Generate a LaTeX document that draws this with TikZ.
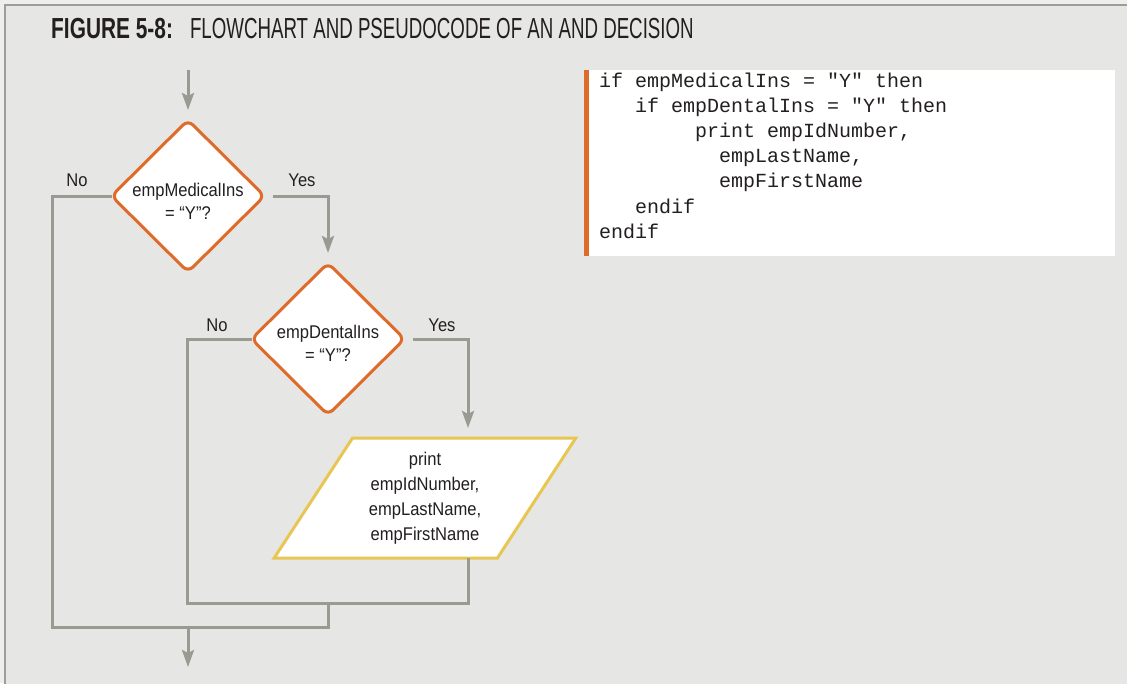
\documentclass[tikz,border=0pt]{standalone}
\usepackage{fontspec}
\setmainfont[FakeStretch=0.9]{Liberation Sans}
\newfontfamily\figlabelfont[FakeStretch=0.72]{Liberation Sans}
\newfontfamily\figtitlefont[FakeStretch=0.645]{Liberation Sans}
\newfontfamily\codefont{Liberation Mono}
\usetikzlibrary{shapes.geometric,arrows.meta}
\definecolor{pagegray}{HTML}{EEEEEC}
\definecolor{panelgray}{HTML}{E6E6E4}
\definecolor{framegray}{HTML}{9E9E98}
\definecolor{flowgray}{HTML}{9B9A92}
\definecolor{deciorange}{HTML}{DF6B2A}
\definecolor{ioyellow}{HTML}{E8C654}
\definecolor{ink}{HTML}{231F20}
% monospaced blanks for the pseudocode
\newcommand{\codesetup}{\codefont\fontsize{20}{25.2}\selectfont}
\newcommand{\codeblanks}{\spaceskip=12pt\xspaceskip=12pt\relax}

\begin{document}
\begin{tikzpicture}[x=1pt,y=-1pt,
    txt/.style={font=\fontsize{18.4}{23}\selectfont, text=ink, inner sep=0pt, align=center},
    decision/.style={diamond, draw=deciorange, fill=white, line width=3pt, rounded corners=7pt,
        minimum width=153pt, minimum height=152pt, inner sep=0pt, outer sep=0pt},
    io/.style={trapezium, trapezium left angle=56.6, trapezium right angle=123.4,
        trapezium stretches=true, draw=ioyellow, fill=white, line width=3pt,
        minimum width=302pt, minimum height=120pt, inner sep=0pt, outer sep=0pt, align=center,
        font=\fontsize{18.4}{25}\selectfont, text=ink},
    line/.style={draw=flowgray, line width=3pt},
    flow/.style={line, -{Stealth[length=17pt,width=12pt,inset=3pt]}}]
    \useasboundingbox (0,0) rectangle (1127,683);
    % panel
    \fill[pagegray] (0,0) rectangle (1127,683);
    \filldraw[fill=panelgray, draw=framegray, line width=2.5pt] (5,5) rectangle (1140,700);
    \node[anchor=base west, inner sep=0pt, text=ink] (title) at (51,38)
        {\fontsize{29}{29}\selectfont{\figlabelfont\bfseries FIGURE 5-8:}\hspace{17pt}{\figtitlefont FLOWCHART AND PSEUDOCODE OF AN AND DECISION}};

    % pseudocode
    \fill[white] (584,70) rectangle (1115,256);
    \fill[deciorange] (584,70) rectangle (589,256);
    \node[anchor=base west, inner sep=0pt, text width=500pt, align=left, text=ink,
        font=\codesetup] (code) at (599,87)
        {\codeblanks if empMedicalIns = "Y" then\\
         ~~~if empDentalIns = "Y" then\\
         ~~~~~~~~print empIdNumber,\\
         ~~~~~~~~~~empLastName,\\
         ~~~~~~~~~~empFirstName\\
         ~~~endif\\
         endif};

    % flowchart
    \coordinate (start) at (188,70);
    \node[decision] (medical) at (188,196) {};
    \node[txt] (medicaltext) at (188,201) {empMedicalIns\\= “Y”?};
    \node[decision] (dental) at (328,339) {};
    \node[txt] (dentaltext) at (328,343) {empDentalIns\\= “Y”?};
    \node[io] (print) at (425,498) {print\\empIdNumber,\\empLastName,\\empFirstName};
    \coordinate (innerjoin) at (328,603);
    \coordinate (outerjoin) at (328,627);
    \coordinate (merge) at (188,627);
    \coordinate (stop) at (188,667);

    \draw[flow, shorten >=10pt] (start) -- (medical.north);
    \draw[flow, shorten >=10pt] ([xshift=8pt]medical.east) -| (dental.north);
    \draw[line] (medical.west) -- ++(-59,0) |- (outerjoin) -- (innerjoin);
    \draw[flow, shorten >=10pt] ([xshift=8pt]dental.east) -| ([xshift=43pt]print.north);
    \draw[line] (dental.west) -- ++(-64,0) |- (innerjoin);
    \draw[line] ([xshift=43pt]print.south) |- (innerjoin);
    \draw[flow] (merge) -- (stop);

    \node[txt] (medno) at (77,180) {No};
    \node[txt] (medyes) at (302,180) {Yes};
    \node[txt] (dentno) at (217,325) {No};
    \node[txt] (dentyes) at (442,325) {Yes};
\end{tikzpicture}
\end{document}
